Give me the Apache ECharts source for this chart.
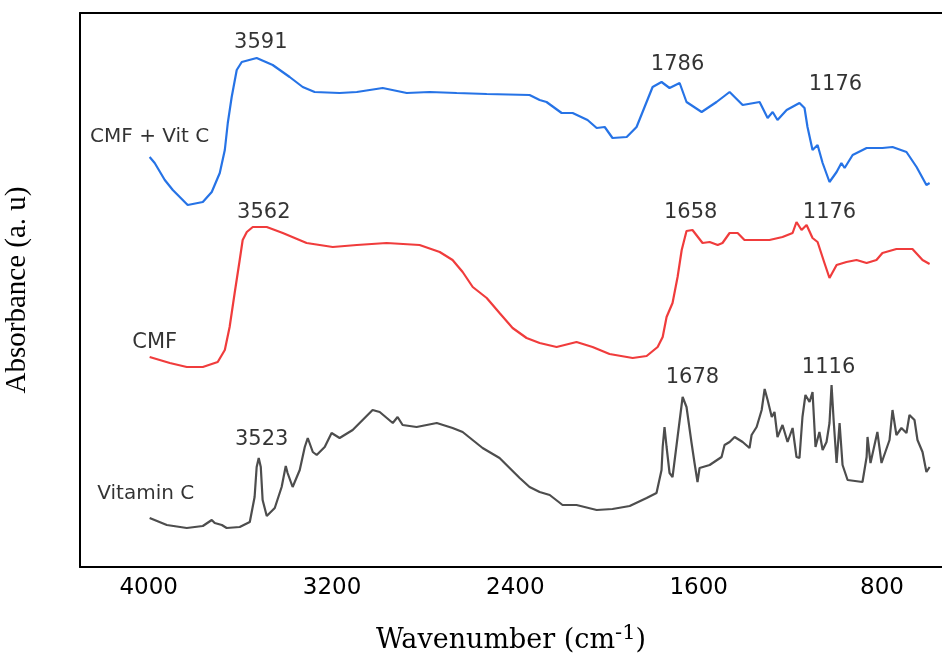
<!DOCTYPE html>
<html>
<head>
<meta charset="utf-8">
<title>FTIR spectra</title>
<script src="https://cdn.jsdelivr.net/npm/echarts@6/dist/echarts.min.js"></script>
<style>
  html, body { margin: 0; padding: 0; background: #fff; }
  #chart { width: 942px; height: 657px; }
</style>
</head>
<body>
<div id="chart"></div>
<script>
// ==================== 数据 ====================

// x 轴刻度 (cm-1)
var xTicks = [4000, 3200, 2400, 1600, 800];

// CMF + Vit C（蓝）
var vitcCmfWn = [3996, 3974, 3930, 3895, 3830, 3764, 3725, 3690, 3668, 3655, 3638, 3616, 3594, 3529, 3459,
  3385, 3328, 3276, 3167, 3092, 2979, 2874, 2774, 2656, 2525, 2338, 2294, 2264, 2198, 2150, 2085, 2045, 2010,
  1976, 1914, 1871, 1836, 1801, 1762, 1727, 1683, 1653, 1587, 1522, 1465, 1408, 1334, 1299, 1277, 1256, 1216,
  1160, 1138, 1125, 1103, 1081, 1059, 1029, 998, 977, 963, 928, 867, 798, 754, 693, 649, 606, 592];
var vitcCmfAbs = [410, 404, 387, 377, 362, 365, 375, 394, 417, 444, 470, 497, 505, 509, 502,
  490, 480, 475, 474, 475, 479, 474, 475, 474, 473, 472, 467, 465, 454, 454, 447, 439, 440,
  429, 430, 440, 460, 480, 485, 479, 484, 465, 455, 465, 475, 462, 465, 449, 455, 447, 457,
  464, 459, 440, 417, 422, 404, 385, 395, 404, 399, 412, 419, 419, 420, 415, 400, 382, 384];

// CMF（红）
var cmfWn = [3996, 3908, 3834, 3764, 3699, 3668, 3647, 3625, 3603, 3590, 3572, 3546, 3485, 3415, 3311,
  3197, 3092, 2962, 2818, 2730, 2674, 2630, 2586, 2525, 2469, 2412, 2351, 2294, 2220, 2133, 2063, 1989,
  1888, 1827, 1779, 1757, 1740, 1714, 1692, 1674, 1653, 1627, 1583, 1552, 1517, 1496, 1465, 1430, 1400,
  1347, 1291, 1234, 1190, 1173, 1151, 1129, 1103, 1081, 1051, 1029, 998, 955, 911, 867, 824, 798, 737,
  667, 623, 592];
var cmfAbs = [210, 204, 200, 200, 205, 217, 240, 274, 307, 327, 335, 340, 340, 334, 324,
  320, 322, 324, 322, 315, 307, 295, 280, 269, 254, 239, 229, 224, 220, 225, 220, 213,
  209, 211, 220, 230, 250, 264, 290, 317, 336, 337, 324, 325, 322, 324, 334, 334, 327,
  327, 327, 330, 334, 345, 337, 342, 329, 325, 304, 289, 302, 305, 307, 304, 307, 314, 318,
  318, 307, 303];

// Vitamin C（灰）
var vitcWn = [3996, 3921, 3834, 3764, 3725, 3712, 3681, 3660, 3603, 3559, 3538, 3529, 3520, 3511, 3503,
  3485, 3450, 3420, 3402, 3394, 3372, 3341, 3319, 3306, 3284, 3267, 3232, 3202, 3167, 3110, 3023, 2992,
  2935, 2914, 2892, 2831, 2743, 2674, 2630, 2543, 2469, 2381, 2338, 2294, 2250, 2194, 2133, 2045, 1976,
  1901, 1827, 1784, 1762, 1757, 1749, 1740, 1727, 1714, 1692, 1670, 1653, 1631, 1618, 1605, 1596, 1552,
  1500, 1487, 1465, 1443, 1408, 1378, 1369, 1347, 1325, 1312, 1299, 1281, 1269, 1256, 1234, 1212, 1190,
  1173, 1160, 1147, 1134, 1116, 1103, 1090, 1073, 1059, 1042, 1029, 1020, 1011, 998, 985, 972, 950,
  885, 867, 863, 850, 820, 802, 767, 754, 737, 715, 693, 680, 658, 645, 623, 606, 592];
var vitcAbs = [49, 42, 39, 41, 47, 44, 42, 39, 40, 45, 70, 100, 109, 100, 67,
  51, 59, 80, 101, 94, 80, 97, 120, 129, 115, 112, 120, 134, 129, 137, 157, 155,
  144, 150, 142, 140, 144, 139, 135, 119, 109, 89, 80, 75, 72, 62, 62, 57, 58,
  61, 69, 74, 97, 120, 140, 120, 94, 90, 130, 170, 160, 124, 104, 85, 99, 102,
  110, 122, 125, 130, 125, 119, 132, 140, 157, 178, 167, 150, 155, 130, 142, 125, 139,
  110, 109, 150, 172, 165, 175, 120, 135, 117, 125, 144, 182, 147, 104, 144, 102, 87,
  85, 110, 130, 104, 135, 104, 127, 157, 132, 139, 134, 152, 147, 127, 115, 95, 100];

// 标注：文字 / 波数 / 纵坐标
var noteText = ['3591', '1786', '1176', 'CMF + Vit C', '3562', '1658', '1176', 'CMF', '3523', '1678', '1116', 'Vitamin C'];
var noteWn   = [3511, 1692, 1003, 3996, 3498, 1635, 1029, 3974, 3507, 1627, 1033, 4013];
var noteAbs  = [524, 502, 482, 430, 354, 354, 354, 224, 127, 189, 199, 73];

// ==================== 渲染 ====================

(function () {
  'use strict';

  function pairs(xs, ys) {
    return xs.map(function (x, i) { return [x, ys[i]]; });
  }

  function lineSeries(name, xs, ys, color) {
    return {
      name: name,
      type: 'line',
      data: pairs(xs, ys),
      showSymbol: false,
      silent: true,
      lineStyle: { color: color, width: 2.2 },
      z: 3,
    };
  }

  // 峰值 / 曲线名称标注
  var notes = noteText.map(function (t, i) {
    var isName = t.length > 4;
    return {
      name: t,
      value: [noteWn[i], noteAbs[i]],
      label: { fontSize: isName ? 20 : 21, color: '#000' },
    };
  });

  var frame = { show: true, lineStyle: { color: '#000', width: 2 } };

  var chart = echarts.init(document.getElementById('chart'));

  chart.setOption({
    backgroundColor: '#fff',
    animation: false,
    grid: { left: 80, right: 0, top: 13, bottom: 90, containLabel: false, outerBoundsMode: 'none' },
    xAxis: [
      {
        type: 'value',
        inverse: true,
        min: 538,
        max: 4300,
        axisLine: frame,
        axisTick: { show: false },
        splitLine: { show: false },
        axisLabel: {
          customValues: xTicks,
          formatter: function (v) { return String(v); },
          color: '#000',
          fontFamily: 'DejaVu Sans',
          fontSize: 23,
          margin: 10,
        },
        name: 'Wavenumber (cm{sup|-1})',
        nameLocation: 'middle',
        nameGap: 56,
        nameTextStyle: {
          color: '#000',
          fontFamily: 'DejaVu Serif',
          fontSize: 27,
          rich: {
            sup: { fontFamily: 'DejaVu Serif', fontSize: 21, color: '#000', verticalAlign: 'top', padding: [0, 0, 14, 0] },
          },
        },
      },
      {
        // 上边框
        type: 'value',
        position: 'top',
        inverse: true,
        min: 538,
        max: 4300,
        axisLine: frame,
        axisTick: { show: false },
        axisLabel: { show: false },
        splitLine: { show: false },
      },
    ],
    yAxis: {
      type: 'value',
      min: 0,
      max: 554,
      axisLine: frame,
      axisTick: { show: false },
      axisLabel: { show: false },
      splitLine: { show: false },
      name: 'Absorbance (a. u)',
      nameLocation: 'middle',
      nameRotate: 90,
      nameGap: 48,
      nameTextStyle: { color: '#000', fontFamily: 'Liberation Serif', fontSize: 29 },
    },
    series: [
      lineSeries('CMF + Vit C', vitcCmfWn, vitcCmfAbs, '#2673e6'),
      lineSeries('CMF', cmfWn, cmfAbs, '#f03c3c'),
      lineSeries('Vitamin C', vitcWn, vitcAbs, '#4d4d4d'),
      {
        name: 'notes',
        type: 'scatter',
        data: notes,
        symbolSize: 0,
        silent: true,
        z: 5,
        label: {
          show: true,
          position: 'inside',
          formatter: '{b}',
          color: '#000',
          fontFamily: 'DejaVu Sans',
        },
      },
    ],
  });

  window.addEventListener('resize', function () { chart.resize(); });
})();
</script>
</body>
</html>
